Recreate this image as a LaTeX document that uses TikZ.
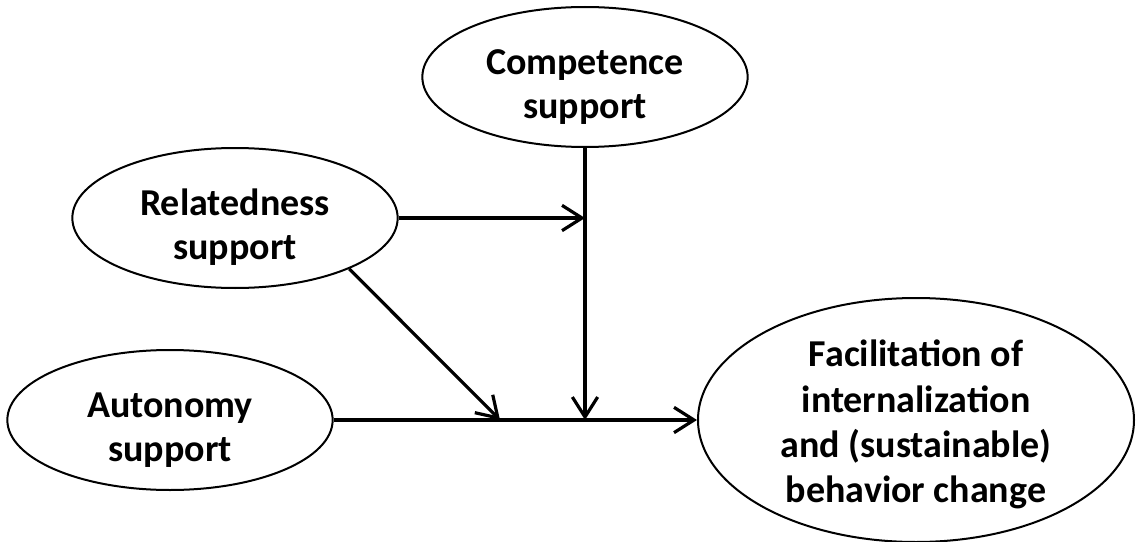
\documentclass[tikz,border=0pt]{standalone}
\usepackage{fontspec}
\setmainfont{Carlito}
\usepackage{tikz}
\usetikzlibrary{arrows.meta,calc,positioning,shapes.geometric}
\newcommand\ovalpad[1]{\rule{0pt}{#1}}

\begin{document}
\begin{tikzpicture}[
  x=0.75pt,y=-0.75pt,
  oval/.style={draw,ellipse,line width=1.5pt,fill=white,inner sep=0pt,align=center,
    font=\bfseries\fontsize{28.5}{33}\selectfont,minimum width=244pt,minimum height=105pt},
  bigoval/.style={oval,minimum width=327pt,minimum height=183pt,inner ysep=-6pt,
    font=\bfseries\fontsize{28.5}{34}\selectfont},
  arrow/.style={-{Straight Barb[length=15pt,width=19pt,line width=2.4pt]},line width=2.4pt}
]
\useasboundingbox (0,0) rectangle (1136,542);
\node[oval] (comp) at (585,77) {\ovalpad{34pt}Competence\\support};
\node[oval] (rel) at (235,218) {\ovalpad{34pt}Relatedness\\support};
\node[oval] (aut) at (170,420) {\ovalpad{34pt}Autonomy\\support};
\node[bigoval] (fac) at (916,420) {\ovalpad{27pt}Facilitation of\\internalization\\and (sustainable)\\behavior change};
\coordinate (jtop) at (comp.south |- rel.east);
\coordinate (jmid) at (comp.south |- aut.east);
\coordinate (jleft) at (500,420);
\draw[arrow] (rel.east) -- (jtop);
\draw[arrow] (comp.south) -- (jmid);
\draw[arrow] (rel.-24) -- (jleft);
\draw[arrow] (aut.east) -- (fac.west);
\end{tikzpicture}
\end{document}
